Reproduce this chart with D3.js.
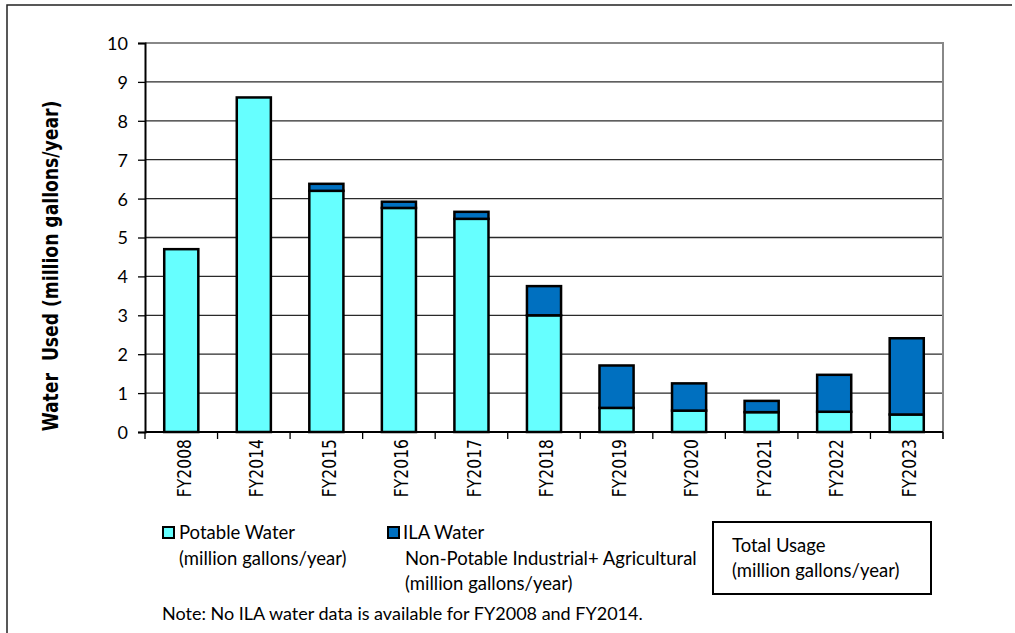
<!DOCTYPE html>
<html>
<head>
<meta charset="utf-8">
<script src="https://cdn.jsdelivr.net/npm/d3@7"></script>
<style>
  body { margin: 0; background: #fff; }
  svg { display: block; }
  .tick text { font-family: Lato, "Open Sans", sans-serif; font-size: 18px; fill: #000; }
</style>
</head>
<body>
<svg id="chart" width="1015" height="633"></svg>
<script>
// values (million gallons/year)
const categories = ["FY2008", "FY2014", "FY2015", "FY2016", "FY2017", "FY2018",
                    "FY2019", "FY2020", "FY2021", "FY2022", "FY2023"];
const potable = [4.70, 8.60, 6.20, 5.76, 5.48, 3.00, 0.62, 0.55, 0.51, 0.52, 0.45];
const ila     = [0.00, 0.00, 0.18, 0.16, 0.18, 0.75, 1.09, 0.70, 0.29, 0.95, 1.96];
const yTicks  = [0, 1, 2, 3, 4, 5, 6, 7, 8, 9, 10];

const colors = { potable: "#66FFFF", ila: "#0070C0" };

const svg = d3.select("#chart");
const plotL = 145, plotR = 943, plotT = 43, plotB = 432;

// outer frame (only top and left visible)
svg.append("path")
    .attr("d", "M 7 633 L 7 5 L 1012 5")
    .attr("fill", "none").attr("stroke", "#222").attr("stroke-width", 1.5);

const x = d3.scaleBand().domain(categories).range([plotL, plotR])
    .paddingInner(0.53).paddingOuter(0.265);
const y = d3.scaleLinear().domain([0, 10]).range([plotB, plotT]);

// gridlines
svg.append("g").selectAll("line").data(yTicks.filter(d => d > 0 && d < 10)).enter()
    .append("line")
    .attr("x1", plotL).attr("x2", plotR)
    .attr("y1", d => y(d)).attr("y2", d => y(d))
    .attr("stroke", "#2a2a2a").attr("stroke-width", 1.3);

// top / right border of plot area
svg.append("path")
    .attr("d", `M ${plotL} ${plotT} L ${plotR} ${plotT} L ${plotR} ${plotB + 7}`)
    .attr("fill", "none").attr("stroke", "#888").attr("stroke-width", 2);

// stacked bars
const table = categories.map((c, i) => ({ cat: c, potable: potable[i], ila: ila[i] }));
const series = d3.stack().keys(["potable", "ila"])(table);

svg.append("g").selectAll("g").data(series).enter().append("g")
    .attr("fill", d => colors[d.key])
    .selectAll("rect").data(d => d.filter(p => p[1] - p[0] > 0)).enter()
    .append("rect")
    .attr("x", d => x(d.data.cat))
    .attr("width", x.bandwidth())
    .attr("y", d => y(d[1]))
    .attr("height", d => y(d[0]) - y(d[1]))
    .attr("stroke", "#000").attr("stroke-width", 2.5);

// y axis
const yAxis = svg.append("g").attr("transform", `translate(${plotL},0)`)
    .call(d3.axisLeft(y).tickValues(yTicks).tickSize(7).tickPadding(10));
yAxis.select(".domain").attr("stroke", "#000").attr("stroke-width", 2);
yAxis.selectAll(".tick line").attr("stroke", "#000").attr("stroke-width", 1.3);
yAxis.selectAll(".tick text").attr("dy", "0.36em");

// x axis: baseline and boundary ticks
svg.append("line").attr("x1", plotL).attr("x2", plotR)
    .attr("y1", plotB).attr("y2", plotB)
    .attr("stroke", "#000").attr("stroke-width", 2);
const bounds = categories.map(c => x(c) - x.step() * x.paddingInner() / 2)
    .concat([plotR]);
svg.append("g").selectAll("line").data(bounds).enter().append("line")
    .attr("x1", d => d).attr("x2", d => d)
    .attr("y1", plotB).attr("y2", plotB + 7)
    .attr("stroke", "#000").attr("stroke-width", 1.3);

svg.append("g").selectAll("text").data(categories).enter().append("text")
    .attr("transform", d => `translate(${x(d) + x.bandwidth() / 2 + 2},439) scale(1.3,1) rotate(-90)`)
    .attr("text-anchor", "end").attr("dy", "0.36em")
    .style("font-family", "DejaVu Sans, sans-serif").style("font-size", "15.6px")
    .text(d => d);

// y axis title
svg.append("text")
    .attr("transform", "translate(50,266) scale(1.25,1) rotate(-90)")
    .attr("text-anchor", "middle").attr("dy", "0.36em")
    .style("font-family", "DejaVu Sans, sans-serif").style("font-weight", "bold")
    .style("font-size", "17.2px")
    .text("Water\u00a0\u00a0Used (million gallons/year)");

// legend
const lg = svg.append("g").style("font-family", "Lato, 'Open Sans', sans-serif")
    .style("font-size", "18.5px");
const legendItems = [
    { key: "potable", x: 163, lines: ["Potable Water", "(million gallons/year)"], dx: [16, 16] },
    { key: "ila", x: 388, lines: ["ILA Water", "Non-Potable Industrial+ Agricultural", "(million gallons/year)"], dx: [15, 17, 17] }
];
legendItems.forEach(it => {
    lg.append("rect").attr("x", it.x).attr("y", 527).attr("width", 11).attr("height", 11)
        .attr("fill", colors[it.key]).attr("stroke", "#000").attr("stroke-width", 2);
    it.lines.forEach((t, i) => {
        lg.append("text").attr("x", it.x + it.dx[i]).attr("y", 539 + i * 25.5).text(t);
    });
});

// total usage box
lg.append("rect").attr("x", 713).attr("y", 522).attr("width", 218).attr("height", 72)
    .attr("fill", "#fff").attr("stroke", "#000").attr("stroke-width", 2);
lg.append("text").attr("x", 732).attr("y", 552).text("Total Usage");
lg.append("text").attr("x", 732).attr("y", 577).text("(million gallons/year)");

lg.append("text").attr("x", 162).attr("y", 620).style("font-size", "18px")
    .text("Note: No ILA water data is available for FY2008 and FY2014.");
</script>
</body>
</html>
